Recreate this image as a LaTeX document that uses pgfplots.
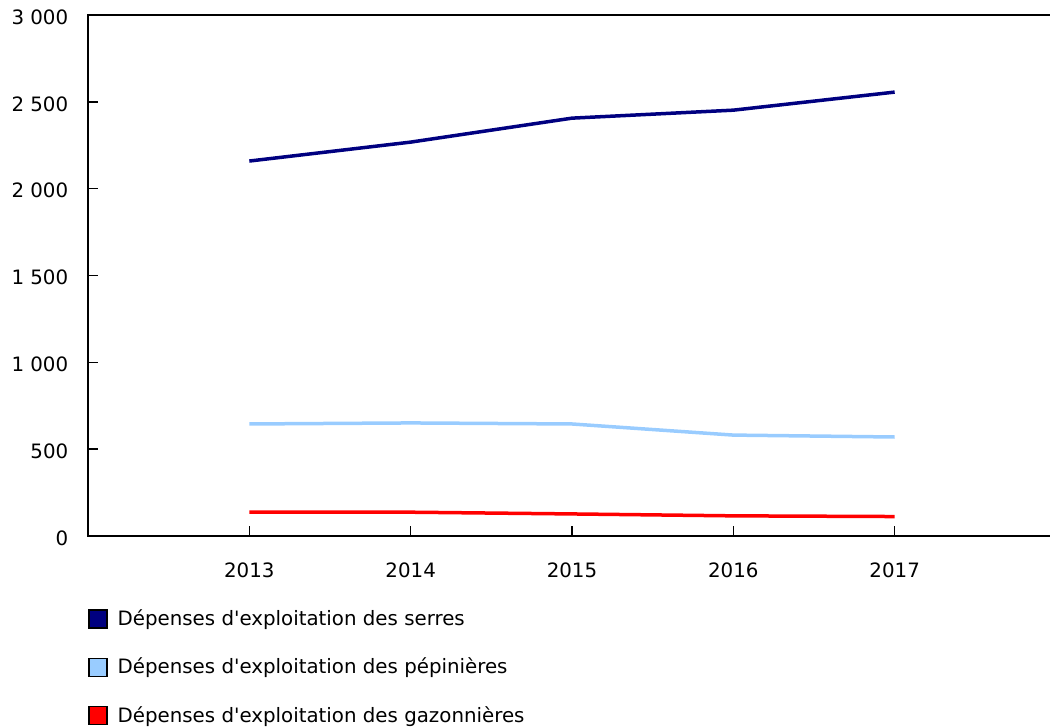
\documentclass[border=0pt]{standalone}
\usepackage{pgfplots}
\pgfplotsset{compat=1.18}
\usepackage{fontspec}
\setmainfont{DejaVu Sans}
\definecolor{serres}{RGB}{0,0,128}
\definecolor{pepin}{RGB}{153,204,255}
\definecolor{gazon}{RGB}{255,0,0}
\begin{document}
\fontsize{19.8pt}{23pt}\selectfont
\begin{tikzpicture}
\useasboundingbox (0,0) rectangle (1050pt,727pt);
\begin{axis}[
  at={(88pt,191pt)}, anchor=south west,
  scale only axis, width=968pt, height=521pt,
  xmin=2012, xmax=2018, ymin=0, ymax=3000,
  xtick={2013,2014,2015,2016,2017},
  xticklabels={2013,2014,2015,2016,2017},
  ytick={0,500,1000,1500,2000,2500,3000},
  yticklabels={0,500,1 000,1 500,2 000,2 500,3 000},
  tick align=inside, major tick length=10pt,
  xtick pos=bottom, ytick pos=left,
  every tick/.style={black, line width=1.5pt},
  axis line style={line width=2pt},
  tick label style={font=\fontsize{19.8pt}{23pt}\selectfont},
  xticklabel style={yshift=-20pt},
  yticklabel style={xshift=-13pt, yshift=-2pt},
  legend style={at={(0,-0.137)}, anchor=north west, draw=none, fill=none,
    font=\fontsize{19.8pt}{23pt}\selectfont, row sep=25.5pt,
    legend cell align=left, inner sep=0pt,
    nodes={inner xsep=10pt}},
  legend columns=1,
]
\addplot[serres, line width=3.5pt, legend image code/.code={\filldraw[draw=black, line width=1.5pt, fill=serres] (-9pt,-9pt) rectangle (9pt,9pt);}]
  coordinates {(2013,2159) (2014,2268) (2015,2406) (2016,2452) (2017,2556)};
\addlegendentry{Dépenses d\textquotesingle exploitation des serres}
\addplot[pepin, line width=3.5pt, legend image code/.code={\filldraw[draw=black, line width=1.5pt, fill=pepin] (-9pt,-9pt) rectangle (9pt,9pt);}]
  coordinates {(2013,645) (2014,651) (2015,645) (2016,581) (2017,570)};
\addlegendentry{Dépenses d\textquotesingle exploitation des pépinières}
\addplot[gazon, line width=3.5pt, legend image code/.code={\filldraw[draw=black, line width=1.5pt, fill=gazon] (-9pt,-9pt) rectangle (9pt,9pt);}]
  coordinates {(2013,137) (2014,137) (2015,127) (2016,116) (2017,112)};
\addlegendentry{Dépenses d\textquotesingle exploitation des gazonnières}
\end{axis}
\end{tikzpicture}
\end{document}
